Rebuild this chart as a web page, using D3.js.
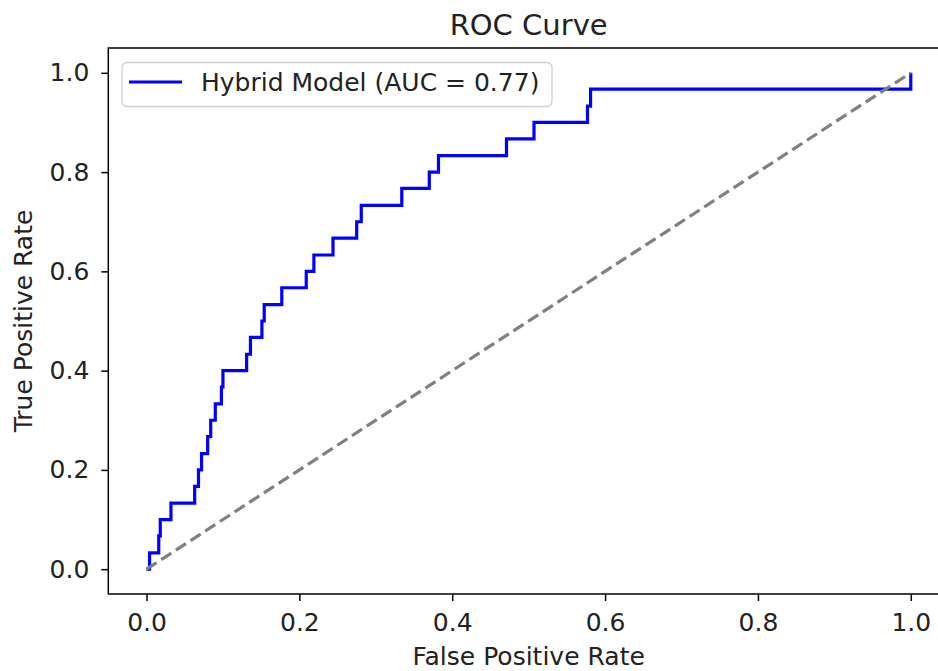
<!DOCTYPE html>
<html>
<head>
<meta charset="utf-8">
<script src="https://cdn.jsdelivr.net/npm/d3@7"></script>
<style>
  body { margin: 0; background: #fff; }
  svg { display: block; font-family: "DejaVu Sans", sans-serif; }
</style>
</head>
<body>
<script>
// ROC steps: fpr where the curve rises, and tpr reached after the rise
var stepFpr = [0.004, 0.016, 0.018, 0.032, 0.063, 0.068, 0.072, 0.080, 0.084, 0.090, 0.098, 0.100,
               0.131, 0.136, 0.151, 0.154, 0.177, 0.209, 0.219, 0.244, 0.275, 0.281, 0.334, 0.370,
               0.382, 0.471, 0.507, 0.577, 0.581, 1.0];
var stepTpr = [0.033, 0.067, 0.100, 0.133, 0.167, 0.200, 0.233, 0.267, 0.300, 0.333, 0.367, 0.400,
               0.433, 0.467, 0.500, 0.533, 0.567, 0.600, 0.633, 0.667, 0.700, 0.733, 0.767, 0.800,
               0.833, 0.867, 0.900, 0.933, 0.967, 1.0];
var chanceLine = [[0, 0], [1, 1]];
var xTicks = [0, 0.2, 0.4, 0.6, 0.8, 1.0];
var yTicks = [0, 0.2, 0.4, 0.6, 0.8, 1.0];
var seriesLabel = "Hybrid Model (AUC = 0.77)";

var width = 938, height = 671;
var margin = { left: 108.3, right: -11, top: 48, bottom: 77 };

var x = d3.scaleLinear().domain([-0.05, 1.05]).range([margin.left, width - margin.right]);
var y = d3.scaleLinear().domain([-0.05, 1.05]).range([height - margin.bottom, margin.top]);

// corner points of the step curve
var pts = [[0, 0]];
var prev = 0;
stepFpr.forEach(function(f, i) {
    pts.push([f, prev]);
    pts.push([f, stepTpr[i]]);
    prev = stepTpr[i];
});

var svg = d3.select("body").append("svg").attr("width", width).attr("height", height);

var line = d3.line()
    .x(function(d) { return x(d[0]); })
    .y(function(d) { return y(d[1]); });

svg.append("path")
    .attr("d", line(pts))
    .attr("fill", "none")
    .attr("stroke", "#0000ff")
    .attr("stroke-width", 3.2)
    .attr("stroke-linejoin", "miter");

svg.append("path")
    .attr("d", line(chanceLine))
    .attr("fill", "none")
    .attr("stroke", "#808080")
    .attr("stroke-width", 3.2)
    .attr("stroke-dasharray", "12,5.5");

// frame
svg.append("rect")
    .attr("x", x(-0.05)).attr("y", y(1.05))
    .attr("width", x(1.05) - x(-0.05)).attr("height", y(-0.05) - y(1.05))
    .attr("fill", "none").attr("stroke", "#000").attr("stroke-width", 1.5);

var xAxis = d3.axisBottom(x).tickValues(xTicks).tickFormat(d3.format(".1f")).tickSize(7).tickPadding(12);
var yAxis = d3.axisLeft(y).tickValues(yTicks).tickFormat(d3.format(".1f")).tickSize(7).tickPadding(12);

var gx = svg.append("g").attr("transform", "translate(0," + y(-0.05) + ")").call(xAxis);
var gy = svg.append("g").attr("transform", "translate(" + x(-0.05) + ",0)").call(yAxis);
[gx, gy].forEach(function(g) {
    g.select(".domain").remove();
    g.selectAll(".tick line").attr("stroke", "#000").attr("stroke-width", 1.5);
    g.selectAll(".tick text").attr("fill", "#222").style("font-size", "25px")
        .style("font-family", "DejaVu Sans, sans-serif");
});

// titles
svg.append("text").attr("x", x(0.5)).attr("y", 35).attr("text-anchor", "middle")
    .style("font-size", "29px").attr("fill", "#222").text("ROC Curve");
svg.append("text").attr("x", x(0.5)).attr("y", 665).attr("text-anchor", "middle")
    .style("font-size", "25px").attr("fill", "#222").text("False Positive Rate");
svg.append("text").attr("transform", "translate(32," + y(0.5) + ") rotate(-90)")
    .attr("text-anchor", "middle")
    .style("font-size", "25px").attr("fill", "#222").text("True Positive Rate");

// legend
var lg = svg.append("g");
lg.append("rect").attr("x", 122).attr("y", 62.5).attr("width", 430).attr("height", 44).attr("rx", 5)
    .attr("fill", "#fff").attr("fill-opacity", 0.8).attr("stroke", "#d0d0d0").attr("stroke-width", 1.3);
lg.append("line").attr("x1", 129).attr("x2", 182).attr("y1", 82).attr("y2", 82)
    .attr("stroke", "#0000ff").attr("stroke-width", 3.2);
lg.append("text").attr("x", 201).attr("y", 82).attr("dy", "0.35em")
    .style("font-size", "25px").attr("fill", "#222").text(seriesLabel);
</script>
</body>
</html>
